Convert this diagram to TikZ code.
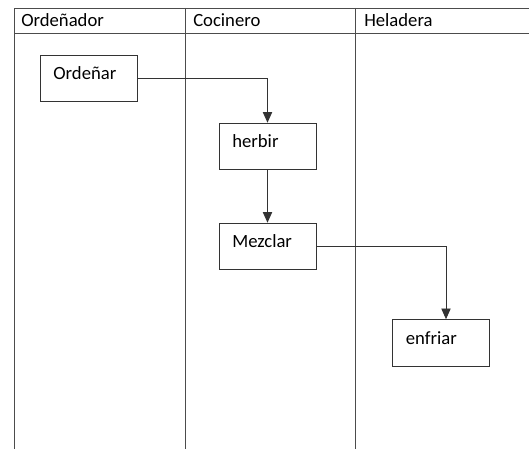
\documentclass[tikz,border=0pt]{standalone}
\usepackage{fontspec}
\setmainfont{Carlito}
\usetikzlibrary{arrows.meta}

\begin{document}
\begin{tikzpicture}[x=0.75pt, y=-0.75pt,
  lane/.style={draw=black!70, line width=0.7pt},
  task/.style={draw=black!80, line width=0.7pt, minimum width=72.75pt,
    inner xsep=10pt, inner ysep=0pt, text width=52.75pt, align=left,
    text height=18.5pt, text depth=16.5pt, font=\fontsize{14}{16}\selectfont},
  head/.style={anchor=base west, inner sep=0pt, font=\fontsize{14}{16}\selectfont},
  flow/.style={draw=black!80, line width=0.7pt, -{Triangle[length=8pt, width=7pt]}}]
\useasboundingbox (0,0) rectangle (529,449);

% swimlanes
\draw [lane] (14,449) -- (14,8) -- (529,8);
\draw [lane] (14,33) -- (529,33);
\draw [lane] (185,8) -- (185,449);
\draw [lane] (355,8) -- (355,449);

\node [head] (hOrd) at (21,27) {Ordeñador};
\node [head] (hCoc) at (193,27) {Cocinero};
\node [head] (hHel) at (364,27) {Heladera};

% tasks
\node [task] (ord) at (88.5,78.5) {Ordeñar};
\node [task] (her) at (267.5,146.5) {herbir};
\node [task] (mez) at (267.5,246.5) {Mezclar};
\node [task] (enf) at (441,343) {enfriar};

\draw [flow] (ord.east) -| (her.north);
\draw [flow] (her) -- (mez);
\draw [flow] (mez.east) -| ([xshift=3.75pt]enf.north);

\end{tikzpicture}
\end{document}
